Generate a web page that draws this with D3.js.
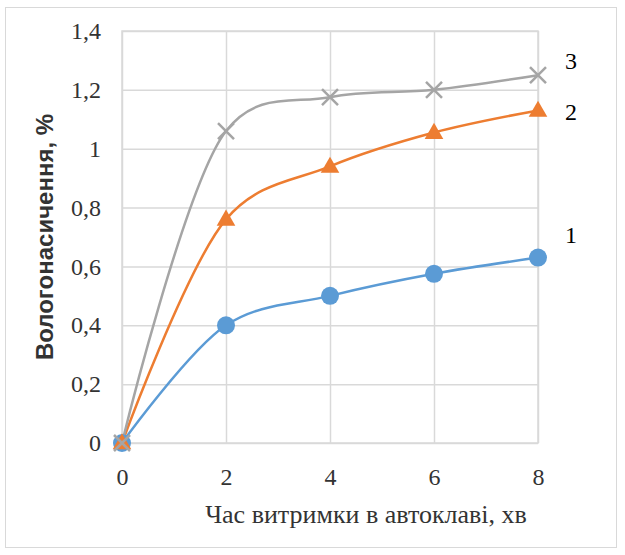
<!DOCTYPE html>
<html>
<head>
<meta charset="utf-8">
<script src="https://cdn.jsdelivr.net/npm/d3@7"></script>
<style>
  body { margin: 0; background: #fff; }
</style>
</head>
<body>
<svg id="chart" width="625" height="555"></svg>
<script>
// data
const times = [0, 2, 4, 6, 8];
const series1 = [0, 0.40, 0.50, 0.575, 0.63];
const series2 = [0, 0.76, 0.94, 1.055, 1.13];
const series3 = [0, 1.06, 1.175, 1.20, 1.25];
const seriesNames = ['1', '2', '3'];
const xTicks = [0, 2, 4, 6, 8];
const yTicks = [0, 0.2, 0.4, 0.6, 0.8, 1.0, 1.2, 1.4];

const colors = ['#5B9BD5', '#ED7D31', '#A5A5A5'];
const markers = ['circle', 'triangle', 'cross'];
const serif = '"Liberation Serif", "Times New Roman", serif';

const margin = { top: 31, right: 87, bottom: 112, left: 122 };
const width = 625 - margin.left - margin.right;
const height = 555 - margin.top - margin.bottom;

const svg = d3.select('#chart');

// outer frame
svg.append('rect')
  .attr('x', 5.5).attr('y', 7.5)
  .attr('width', 611).attr('height', 540)
  .attr('fill', 'none')
  .attr('stroke', '#D9D9D9');

const g = svg.append('g')
  .attr('transform', 'translate(' + margin.left + ',' + margin.top + ')');

const xScale = d3.scaleLinear().domain([0, 8]).range([0, width]);
const yScale = d3.scaleLinear().domain([0, 1.4]).range([height, 0]);

// grid
g.append('g')
  .attr('transform', 'translate(0,' + height + ')')
  .call(d3.axisBottom(xScale).tickValues(xTicks).tickSize(-height).tickFormat(''))
  .call(a => a.select('.domain').remove())
  .selectAll('line').attr('stroke', '#D9D9D9').attr('stroke-width', 1.5);

g.append('g')
  .call(d3.axisLeft(yScale).tickValues(yTicks).tickSize(-width).tickFormat(''))
  .call(a => a.select('.domain').remove())
  .selectAll('line').attr('stroke', '#D9D9D9').attr('stroke-width', 1.5);

// plot border
g.append('rect')
  .attr('width', width).attr('height', height)
  .attr('fill', 'none')
  .attr('stroke', '#D9D9D9').attr('stroke-width', 1.5);

// axis labels
const fmt = d => d3.format('.1f')(d).replace('.0', '').replace('.', ',');

const xAxisG = g.append('g')
  .attr('transform', 'translate(0,' + height + ')')
  .call(d3.axisBottom(xScale).tickValues(xTicks).tickSize(0).tickPadding(25));
xAxisG.select('.domain').remove();

const yAxisG = g.append('g')
  .call(d3.axisLeft(yScale).tickValues(yTicks).tickSize(0).tickPadding(21).tickFormat(fmt));
yAxisG.select('.domain').remove();

[xAxisG, yAxisG].forEach(a => {
  a.attr('font-family', null).attr('font-size', null);
  a.selectAll('text')
    .style('font-family', serif)
    .style('font-size', '24px')
    .style('fill', '#333');
});

// titles
svg.append('text')
  .attr('x', 366).attr('y', 523)
  .attr('text-anchor', 'middle')
  .style('font-family', serif)
  .style('font-size', '26px')
  .attr('fill', '#333')
  .text('Час витримки в автоклаві, хв');

svg.append('text')
  .attr('transform', 'translate(53,237) rotate(-90)')
  .attr('text-anchor', 'middle')
  .style('font-family', '"Liberation Sans", Arial, sans-serif')
  .style('font-weight', 'bold')
  .style('font-size', '24px')
  .attr('fill', '#333')
  .text('Вологонасичення, %');

// lines
const allSeries = [series1, series2, series3];
const line = d3.line()
  .x((d, i) => xScale(times[i]))
  .y(d => yScale(d))
  .curve(d3.curveCatmullRom.alpha(0.25));

allSeries.forEach(function (s, k) {
  g.append('path')
    .datum(s)
    .attr('d', line)
    .attr('fill', 'none')
    .attr('stroke', colors[k])
    .attr('stroke-width', 2.5);
});

// markers
allSeries.forEach(function (s, k) {
  const pts = g.append('g').selectAll('g')
    .data(s)
    .enter()
    .append('g')
    .attr('transform', (d, i) => 'translate(' + xScale(times[i]) + ',' + yScale(d) + ')');

  if (markers[k] === 'circle') {
    pts.append('circle').attr('r', 9).attr('fill', colors[k]);
  } else if (markers[k] === 'triangle') {
    pts.append('path')
      .attr('d', d3.symbol().type(d3.symbolTriangle).size(150))
      .attr('transform', 'translate(0,1)')
      .attr('fill', colors[k]);
  } else {
    pts.append('path')
      .attr('d', 'M-8,-8L8,8M-8,8L8,-8')
      .attr('stroke', colors[k])
      .attr('stroke-width', 2.5);
  }
});

// series labels at the right end
const lastVals = [series1[4], series2[4], series3[4]];
const labelY = [yScale(lastVals[0]) - 23, yScale(lastVals[1]) + 1, yScale(lastVals[2]) - 15];
seriesNames.forEach(function (n, k) {
  g.append('text')
    .attr('x', xScale(8) + 33)
    .attr('y', labelY[k])
    .attr('dy', '0.35em')
    .attr('text-anchor', 'middle')
    .style('font-family', serif)
    .style('font-size', '24px')
    .attr('fill', '#000')
    .text(n);
});
</script>
</body>
</html>
